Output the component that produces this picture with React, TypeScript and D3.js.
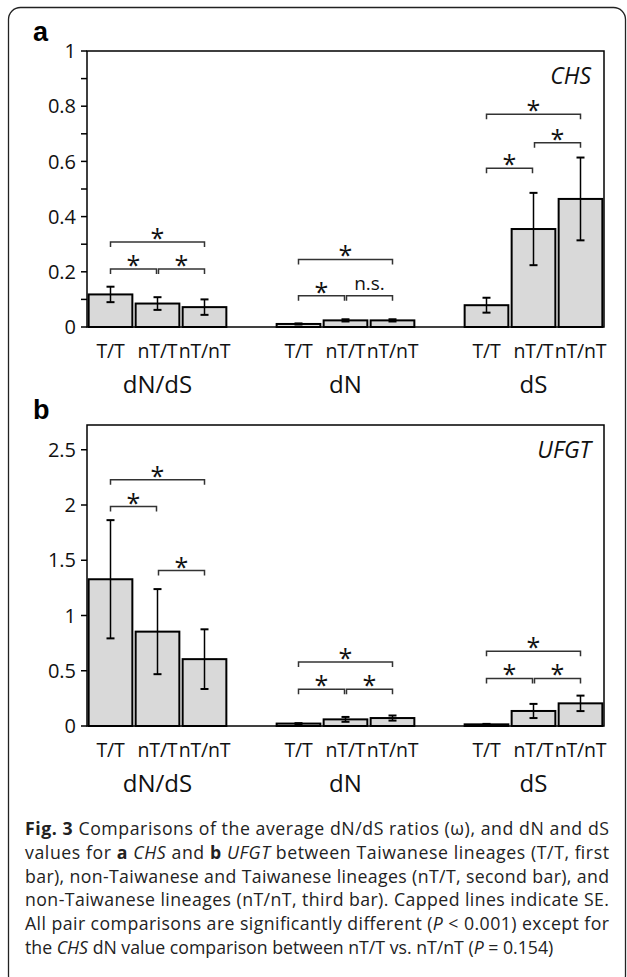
import React, { useRef, useEffect } from "react";
import * as d3 from "d3";

const groups = ["dN/dS", "dN", "dS"];
const lineages = ["T/T", "nT/T", "nT/nT"];

// a: CHS, values listed group by group (dN/dS, dN, dS), each T/T, nT/T, nT/nT
const chsMeans = [0.118, 0.085, 0.072, 0.011, 0.024, 0.024, 0.079, 0.355, 0.464];
const chsSE = [0.028, 0.023, 0.028, 0.002, 0.004, 0.004, 0.027, 0.131, 0.15];
const chsTicks = [0, 0.2, 0.4, 0.6, 0.8, 1];
const chsMinorTicks = [0.1, 0.3, 0.5, 0.7, 0.9];
// [group, from bar, to bar, height, label]
const chsBrackets = [
  [0, 0, 1, 0.21, "*"],
  [0, 1, 2, 0.21, "*"],
  [0, 0, 2, 0.308, "*"],
  [1, 0, 1, 0.113, "*"],
  [1, 1, 2, 0.113, "n.s."],
  [1, 0, 2, 0.245, "*"],
  [2, 0, 1, 0.575, "*"],
  [2, 1, 2, 0.668, "*"],
  [2, 0, 2, 0.771, "*"],
];

// b: UFGT
const ufgtMeans = [1.328, 0.854, 0.605, 0.022, 0.06, 0.072, 0.015, 0.136, 0.205];
const ufgtSE = [0.535, 0.385, 0.27, 0.004, 0.022, 0.023, 0.004, 0.064, 0.07];
const ufgtTicks = [0, 0.5, 1, 1.5, 2, 2.5];
const ufgtBrackets = [
  [0, 0, 1, 1.986, "*"],
  [0, 1, 2, 1.407, "*"],
  [0, 0, 2, 2.228, "*"],
  [1, 0, 1, 0.332, "*"],
  [1, 1, 2, 0.332, "*"],
  [1, 0, 2, 0.58, "*"],
  [2, 0, 1, 0.43, "*"],
  [2, 1, 2, 0.43, "*"],
  [2, 0, 2, 0.677, "*"],
];

// caption, [text, style] with style "" | "b" | "i"
const captionLines = [
  [["Fig. 3", "b"], [" Comparisons of the average dN/dS ratios (ω), and dN and dS", ""]],
  [["values for ", ""], ["a", "b"], [" ", ""], ["CHS", "i"], [" and ", ""], ["b", "b"], [" ", ""], ["UFGT", "i"], [" between Taiwanese lineages (T/T, first", ""]],
  [["bar), non-Taiwanese and Taiwanese lineages (nT/T, second bar), and", ""]],
  [["non-Taiwanese lineages (nT/nT, third bar). Capped lines indicate SE.", ""]],
  [["All pair comparisons are significantly different (", ""], ["P", "i"], [" < 0.001) except for", ""]],
  [["the ", ""], ["CHS", "i"], [" dN value comparison between nT/T vs. nT/nT (", ""], ["P", "i"], [" = 0.154)", ""]],
];

const W = 627;
const H = 977;
const FONT = "'Open Sans', sans-serif";
const plotLeft = 87;
const plotRight = 604;

function drawPanel(svg, o) {
  const y = d3.scaleLinear().domain([0, o.max]).range([o.bottom, o.top]);
  const xg = d3
    .scaleBand()
    .domain(groups)
    .range([plotLeft, plotRight])
    .paddingInner(0.25)
    .paddingOuter(0);
  const xb = d3
    .scaleBand()
    .domain(lineages)
    .range([0, xg.bandwidth()])
    .paddingInner(0.07)
    .paddingOuter(0.035);
  const cx = (g, b) => xg(groups[g]) + xb(lineages[b]) + xb.bandwidth() / 2;

  const g = svg.append("g").style("font-family", FONT);

  // frame
  g.append("rect")
    .attr("x", plotLeft)
    .attr("y", o.top)
    .attr("width", plotRight - plotLeft)
    .attr("height", o.bottom - o.top)
    .attr("fill", "none")
    .attr("stroke", "#000")
    .attr("stroke-width", 1.5);

  // y axis ticks
  const allTicks = o.ticks.concat(o.minor || []);
  g.append("g")
    .selectAll("line")
    .data(allTicks)
    .join("line")
    .attr("x1", plotLeft - 6)
    .attr("x2", plotLeft)
    .attr("y1", (d) => y(d))
    .attr("y2", (d) => y(d))
    .attr("stroke", "#000")
    .attr("stroke-width", 1.5);
  g.append("g")
    .selectAll("text")
    .data(o.ticks)
    .join("text")
    .attr("x", plotLeft - 11)
    .attr("y", (d) => y(d))
    .attr("dy", "0.36em")
    .attr("text-anchor", "end")
    .style("font-size", "20px")
    .attr("fill", "#111")
    .text((d) => String(d));

  // bars
  const rows = o.means.map((m, i) => ({
    g: Math.floor(i / 3),
    b: i % 3,
    m,
    se: o.se[i],
  }));
  g.append("g")
    .selectAll("rect")
    .data(rows)
    .join("rect")
    .attr("x", (d) => xg(groups[d.g]) + xb(lineages[d.b]))
    .attr("y", (d) => y(d.m))
    .attr("width", xb.bandwidth())
    .attr("height", (d) => o.bottom - y(d.m))
    .attr("fill", "#d9d9d9")
    .attr("stroke", "#000")
    .attr("stroke-width", 2);

  // error bars
  const eb = g.append("g").attr("stroke", "#000");
  eb.selectAll("line.v")
    .data(rows)
    .join("line")
    .attr("class", "v")
    .attr("x1", (d) => cx(d.g, d.b))
    .attr("x2", (d) => cx(d.g, d.b))
    .attr("y1", (d) => y(d.m + d.se))
    .attr("y2", (d) => y(d.m - d.se))
    .attr("stroke-width", 1.5);
  ["up", "down"].forEach((k) => {
    eb.selectAll("line." + k)
      .data(rows)
      .join("line")
      .attr("class", k)
      .attr("x1", (d) => cx(d.g, d.b) - 4)
      .attr("x2", (d) => cx(d.g, d.b) + 4)
      .attr("y1", (d) => y(k === "up" ? d.m + d.se : d.m - d.se))
      .attr("y2", (d) => y(k === "up" ? d.m + d.se : d.m - d.se))
      .attr("stroke-width", 2);
  });

  // significance brackets
  const br = g.append("g");
  o.brackets.forEach(([gi, a, b, h, label]) => {
    let x1 = cx(gi, a);
    let x2 = cx(gi, b);
    if (b - a === 1) {
      if (a === 1) x1 += 1;
      else x2 -= 1;
    }
    const yy = y(h);
    br.append("path")
      .attr("d", `M${x1},${yy + 5}V${yy}H${x2}V${yy + 5}`)
      .attr("fill", "none")
      .attr("stroke", "#333")
      .attr("stroke-width", 1.5);
    if (label === "*") {
      br.append("text")
        .attr("x", (x1 + x2) / 2)
        .attr("y", yy + 5)
        .attr("text-anchor", "middle")
        .style("font-size", "25px")
        .attr("fill", "#111")
        .text("*");
    } else {
      br.append("text")
        .attr("x", (x1 + x2) / 2)
        .attr("y", yy - 6)
        .attr("text-anchor", "middle")
        .style("font-size", "19px")
        .attr("fill", "#111")
        .text(label);
    }
  });

  // category labels
  g.append("g")
    .selectAll("text")
    .data(rows)
    .join("text")
    .attr("x", (d) => cx(d.g, d.b))
    .attr("y", o.bottom + 31)
    .attr("text-anchor", "middle")
    .style("font-size", "19.5px")
    .style("letter-spacing", "-0.2px")
    .attr("fill", "#111")
    .text((d) => lineages[d.b]);
  g.append("g")
    .selectAll("text")
    .data(groups)
    .join("text")
    .attr("x", (d) => xg(d) + xg.bandwidth() / 2)
    .attr("y", o.bottom + 66)
    .attr("text-anchor", "middle")
    .style("font-size", "24px")
    .attr("fill", "#111")
    .text((d) => d);

  // gene name and panel letter
  g.append("text")
    .attr("x", 591)
    .attr("y", o.top + 33)
    .attr("text-anchor", "end")
    .style("font-size", "23px")
    .style("font-style", "italic")
    .attr("fill", "#111")
    .text(o.gene);
  g.append("text")
    .attr("x", 33)
    .attr("y", o.letterY)
    .style("font-family", "'Liberation Sans', Arial, sans-serif")
    .style("font-size", "27px")
    .style("font-weight", "bold")
    .attr("fill", "#000")
    .text(o.letter);
}

function FigureChart() {
  const svgRef = useRef(null);

  useEffect(() => {
    const svg = d3.select(svgRef.current);
    svg.selectAll("*").remove();

    // rounded outer border
    svg
      .append("rect")
      .attr("x", 8.5)
      .attr("y", 7.5)
      .attr("width", 617)
      .attr("height", 980)
      .attr("rx", 12)
      .attr("fill", "none")
      .attr("stroke", "#222")
      .attr("stroke-width", 1.3);

    drawPanel(svg, {
      top: 51,
      bottom: 327,
      max: 1,
      ticks: chsTicks,
      minor: chsMinorTicks,
      means: chsMeans,
      se: chsSE,
      brackets: chsBrackets,
      gene: "CHS",
      letter: "a",
      letterY: 41,
    });
    drawPanel(svg, {
      top: 425,
      bottom: 726,
      max: 2.724,
      ticks: ufgtTicks,
      minor: [],
      means: ufgtMeans,
      se: ufgtSE,
      brackets: ufgtBrackets,
      gene: "UFGT",
      letter: "b",
      letterY: 419,
    });

    // caption
    const cap = svg
      .append("g")
      .style("font-family", FONT)
      .style("font-size", "17.7px")
      .attr("fill", "#222");
    captionLines.forEach((line, i) => {
      const t = cap
        .append("text")
        .attr("x", 25)
        .attr("y", 835 + i * 23.8);
      if (i < captionLines.length - 1) {
        t.attr("textLength", 584).attr("lengthAdjust", "spacing");
      }
      line.forEach(([s, st]) => {
        t.append("tspan")
          .style("font-weight", st === "b" ? "bold" : "normal")
          .style("font-style", st === "i" ? "italic" : "normal")
          .text(s);
      });
    });
  }, []);

  return (
    <svg
      ref={svgRef}
      width={W}
      height={H}
      style={{ position: "absolute", left: 0, top: 0, background: "#fff" }}
    />
  );
}

export default function App() {
  return <FigureChart />;
}
